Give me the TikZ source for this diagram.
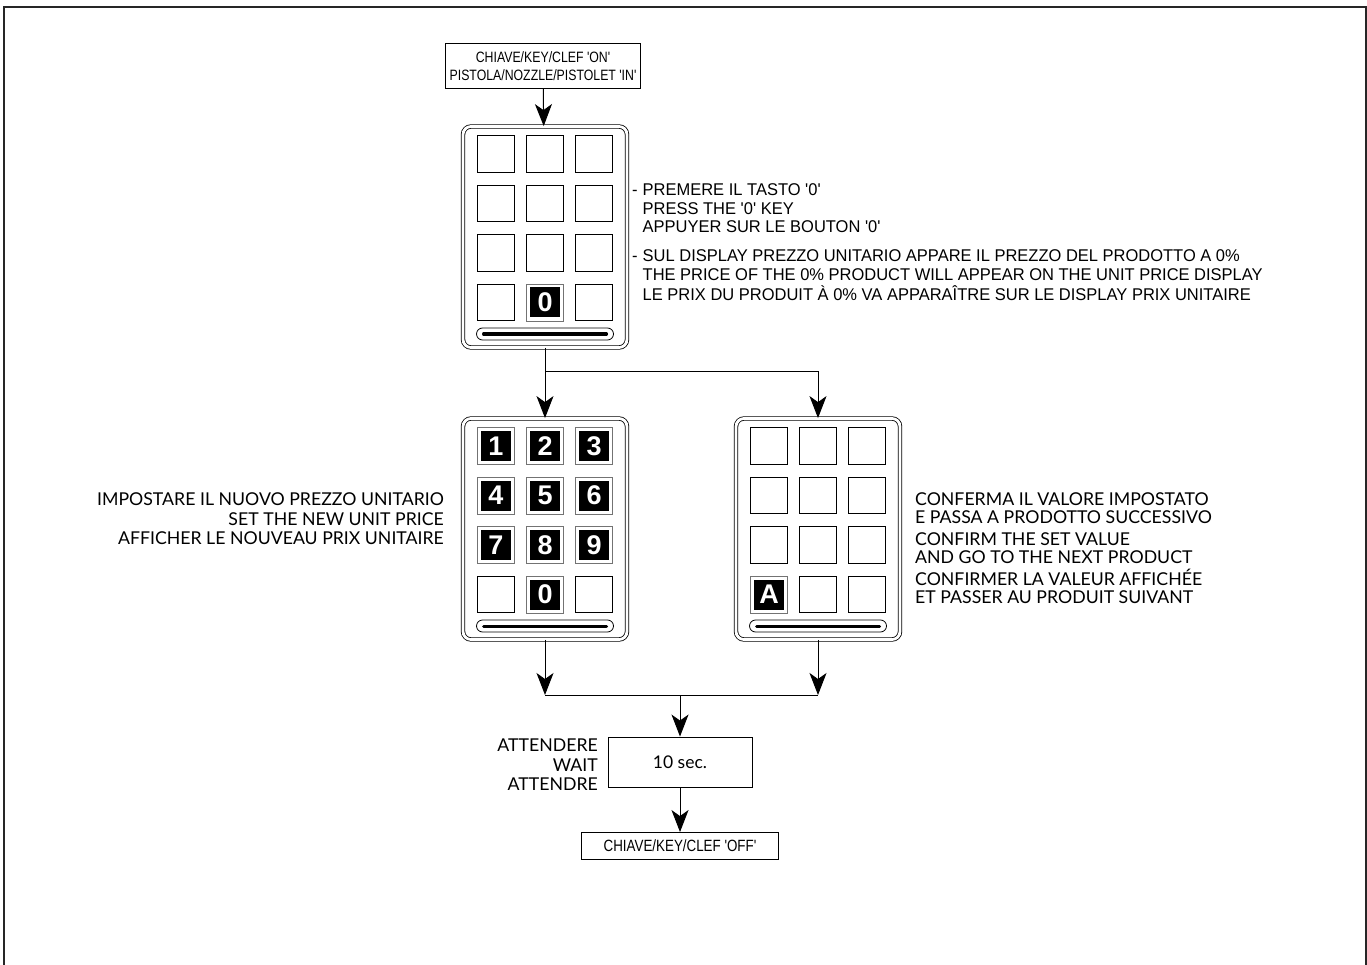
\documentclass[tikz,border=0pt]{standalone}
\usepackage{fontspec}
\setmainfont{Liberation Sans}[Ligatures=TeXOff]
\newfontfamily\narrowfont{Liberation Sans}[FakeStretch=0.82,Ligatures=TeXOff]
\newfontfamily\notefont{Liberation Sans}[FakeStretch=0.97,Ligatures=TeXOff]
\newfontfamily\gillfont{Lato}[Ligatures=TeXOff]
\usetikzlibrary{arrows.meta,positioning,calc}
\tikzset{
  border/.style={draw=black!85,line width=1.3pt},
  stepbox/.style={draw,line width=0.9pt,align=center,inner sep=2pt,font=\narrowfont\fontsize{15}{18}\selectfont},
  waitbox/.style={draw,line width=0.9pt,minimum width=144pt,minimum height=50pt,font=\gillfont\fontsize{17.5}{20}\selectfont},
  pad/.style={draw,line width=0.8pt,double,double distance=2.8pt,rounded corners=8pt,minimum width=164pt,minimum height=221pt,inner sep=0pt},
  padkey/.style={draw,line width=1pt,minimum size=36.5pt,inner sep=0pt},
  hotkey/.style={draw=black!55,line width=0.8pt,minimum size=37pt,inner sep=0pt,text=white,
    font=\bfseries\fontsize{27}{27}\selectfont,
    path picture={\fill[black] ([shift={(3.5pt,3.5pt)}]path picture bounding box.south west) rectangle ([shift={(-3.5pt,-3.5pt)}]path picture bounding box.north east);}},
  slot/.style={draw,line width=0.8pt,rounded corners=6pt,minimum width=137pt,minimum height=12pt,inner sep=0pt,
    path picture={\draw[line width=3pt,line cap=round] ([xshift=7pt]path picture bounding box.west) -- ([xshift=-7pt]path picture bounding box.east);}},
  flow/.style={-{Stealth[length=22pt,width=17pt,inset=6pt]},line width=1pt},
  plainline/.style={line width=1pt},
  narrowlab/.style={align=left,inner sep=0pt,font=\notefont\fontsize{17}{18.5}\selectfont},
  lab/.style={inner sep=0pt,font=\gillfont\fontsize{17.7}{19.5}\selectfont}
}

\begin{document}
\begin{tikzpicture}[x=1pt,y=-1pt]
  \useasboundingbox (0,0) rectangle (1367,965);
  \draw[border] (4,965) -- (4,7) -- (1366,7) -- (1366,965);

  % start
  \node[stepbox,minimum width=195pt,minimum height=45pt] (keyon) at (543,66) {CHIAVE/KEY/CLEF 'ON'\\PISTOLA/NOZZLE/PISTOLET 'IN'};

  % keypad: press 0
  \node[pad] (padzero) at (545,237) {};
  \foreach \c in {-1,0,1} {
    \foreach \r in {0,1,2} {
      \node[padkey] (padzero-\r-\c) at ($(padzero)+(\c*49,\r*49.5-83)$) {};
    }
  }
  \node[padkey] (padzero-3--1) at ($(padzero)+(-49,65.5)$) {};
  \node[hotkey] (padzero-3-0) at ($(padzero)+(0,65.5)$) {0};
  \node[padkey] (padzero-3-1) at ($(padzero)+(49,65.5)$) {};
  \node[slot] (padzero-slot) at ($(padzero)+(0,97)$) {};
  \draw[flow] (keyon) -- (padzero);

  \node[narrowlab,anchor=base west] (zeronote) at (632,196) {%
    \begin{tabular}[t]{@{}l@{\hspace{5pt}}l@{}}
    - & PREMERE IL TASTO '0'\\
      & PRESS THE '0' KEY\\
      & APPUYER SUR LE BOUTON '0'\\[10.5pt]
    - & SUL DISPLAY PREZZO UNITARIO APPARE IL PREZZO DEL PRODOTTO A 0\%\\
      & THE PRICE OF THE 0\% PRODUCT WILL APPEAR ON THE UNIT PRICE DISPLAY\\
      & LE PRIX DU PRODUIT À 0\% VA APPARAÎTRE SUR LE DISPLAY PRIX UNITAIRE
    \end{tabular}};

  % keypad: new price
  \node[pad] (padprice) at (545,529) {};
  \foreach \lbl [count=\i from 0] in {1,...,9} {
    \pgfmathtruncatemacro{\r}{int(\i/3)}
    \pgfmathtruncatemacro{\c}{mod(\i,3)-1}
    \node[hotkey] (padprice-\lbl) at ($(padprice)+(\c*49,\r*49.5-83)$) {\lbl};
  }
  \node[padkey] (padprice-l) at ($(padprice)+(-49,65.5)$) {};
  \node[hotkey] (padprice-0) at ($(padprice)+(0,65.5)$) {0};
  \node[padkey] (padprice-r) at ($(padprice)+(49,65.5)$) {};
  \node[slot] (padprice-slot) at ($(padprice)+(0,97)$) {};

  \node[lab,align=right,anchor=east] (pricenote) at (444,519) {IMPOSTARE IL NUOVO PREZZO UNITARIO\\SET THE NEW UNIT PRICE\\AFFICHER LE NOUVEAU PRIX UNITAIRE};

  % keypad: confirm
  \node[pad] (padok) at (818,529) {};
  \foreach \c in {-1,0,1} {
    \foreach \r in {0,1,2} {
      \node[padkey] (padok-\r-\c) at ($(padok)+(\c*49,\r*49.5-83)$) {};
    }
  }
  \node[hotkey] (padok-a) at ($(padok)+(-49,65.5)$) {A};
  \node[padkey] (padok-3-0) at ($(padok)+(0,65.5)$) {};
  \node[padkey] (padok-3-1) at ($(padok)+(49,65.5)$) {};
  \node[slot] (padok-slot) at ($(padok)+(0,97)$) {};

  \node[lab,align=left,anchor=west,font=\gillfont\fontsize{17.7}{18}\selectfont] (oknote) at (915,548) {CONFERMA IL VALORE IMPOSTATO\\E PASSA A PRODOTTO SUCCESSIVO\\[4pt]CONFIRM THE SET VALUE\\AND GO TO THE NEXT PRODUCT\\[4pt]CONFIRMER LA VALEUR AFFICHÉE\\ET PASSER AU PRODUIT SUIVANT};

  % fork
  \coordinate (fork) at (545,371);
  \draw[plainline] (padzero) -- (fork);
  \draw[flow] (fork) -- (padprice);
  \draw[flow] (fork) -| (padok);

  % wait
  \node[waitbox] (wait) at (680,762) {10 sec.};
  \node[lab,align=right,anchor=east] (waitnote) at (598,765) {ATTENDERE\\WAIT\\ATTENDRE};
  \coordinate (mergeprice) at (545,695);
  \coordinate (mergeok) at (818,695);
  \coordinate (merge) at (680,695);
  \draw[flow] (padprice) -- (mergeprice);
  \draw[flow] (padok) -- (mergeok);
  \draw[plainline] (mergeprice) -- (mergeok);
  \draw[flow] (merge) -- (wait);

  % end
  \node[stepbox,minimum width=197pt,minimum height=27pt,font=\narrowfont\fontsize{16.3}{18}\selectfont] (keyoff) at (680,846) {CHIAVE/KEY/CLEF 'OFF'};
  \draw[flow] (wait) -- (keyoff);
\end{tikzpicture}
\end{document}
